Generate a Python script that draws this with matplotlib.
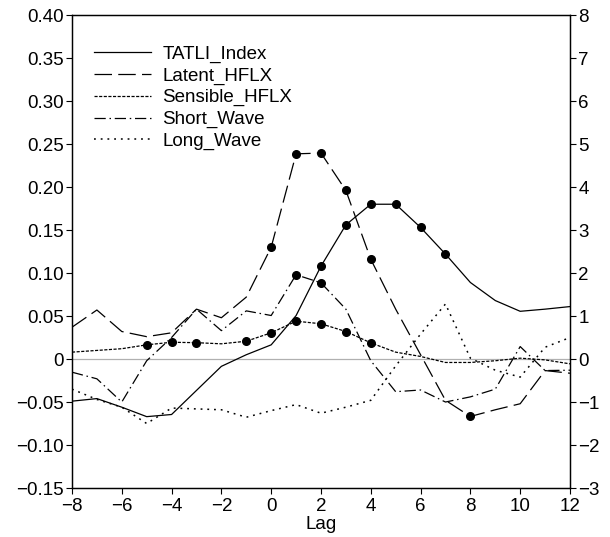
# Lagged regression curves: TATLI index and surface heat flux terms

import matplotlib
matplotlib.use("Agg")
import matplotlib.pyplot as plt

plt.rcParams["font.family"] = ["Liberation Sans", "DejaVu Sans"]
plt.rcParams["axes.unicode_minus"] = True

# --------------------------------------------
# Data
# --------------------------------------------

lags = list(range(-8, 13))

# right axis units
tatli_index = [-0.98, -0.92, -1.12, -1.34, -1.29, -0.73, -0.17, 0.10, 0.33, 1.01,
               2.16, 3.12, 3.60, 3.60, 3.06, 2.44, 1.78, 1.36, 1.11, 1.16, 1.22]

# left axis units
latent_hflx = [0.037, 0.057, 0.032, 0.026, 0.0305, 0.058, 0.048, 0.072, 0.130, 0.2386,
               0.2395, 0.196, 0.116, 0.058, 0.005, -0.048, -0.0668, -0.059, -0.052, -0.0134, -0.0165]
sensible_hflx = [0.008, 0.010, 0.012, 0.0165, 0.0195, 0.019, 0.0177, 0.0207, 0.0305, 0.044,
                 0.041, 0.032, 0.0188, 0.008, 0.003, -0.004, -0.004, -0.002, 0.001, -0.001, -0.0056]
short_wave = [-0.0153, -0.023, -0.050, -0.002, 0.025, 0.058, 0.033, 0.056, 0.0506, 0.098,
              0.0886, 0.058, -0.002, -0.038, -0.036, -0.050, -0.044, -0.035, 0.0145, -0.0134, -0.013]
long_wave = [-0.035, -0.047, -0.056, -0.075, -0.057, -0.058, -0.059, -0.0677, -0.060, -0.053,
             -0.063, -0.056, -0.048, -0.008, 0.029, 0.064, 0.001, -0.013, -0.021, 0.0137, 0.025]

# lags marked with a dot (significant)
tatli_sig = [2, 3, 4, 5, 6, 7]
latent_sig = [0, 1, 2, 3, 4, 8]
sensible_sig = [-5, -4, -3, -1, 0, 1, 2, 3, 4]
short_sig = [1, 2]


def pick(values, sig):
    return [values[lags.index(k)] for k in sig]


def minus(v):
    return ("\u2212" + v[1:]) if v.startswith("-") else v


# --------------------------------------------
# Figure
# --------------------------------------------

fig = plt.figure(figsize=(6.10, 5.37), dpi=100)
ax = fig.add_axes([0.118, 0.0912, 0.8164, 0.8808])
ax2 = ax.twinx()

lw = 0.9
ms = 5.5

ax.axhline(0, color="#b0b0b0", lw=0.9, zorder=1)

h_lat, = ax.plot(lags, latent_hflx, color="black", lw=lw, dashes=(14, 5), label="Latent_HFLX")
ax.plot(latent_sig, pick(latent_hflx, latent_sig), "o", color="black", ms=ms)

h_sen, = ax.plot(lags, sensible_hflx, color="black", lw=lw, dashes=(2.5, 1.2), label="Sensible_HFLX")
ax.plot(sensible_sig, pick(sensible_hflx, sensible_sig), "o", color="black", ms=ms)

h_sw, = ax.plot(lags, short_wave, color="black", lw=lw, dashes=(9, 3, 1.2, 3), label="Short_Wave")
ax.plot(short_sig, pick(short_wave, short_sig), "o", color="black", ms=ms)

h_lw, = ax.plot(lags, long_wave, color="black", lw=1.1, dashes=(1.2, 3.2), label="Long_Wave")

h_tat, = ax2.plot(lags, tatli_index, color="black", lw=lw, label="TATLI_Index")
ax2.plot(tatli_sig, pick(tatli_index, tatli_sig), "o", color="black", ms=ms)

# --------------------------------------------
# Axes
# --------------------------------------------

ax.set_xlim(-8, 12)
ax.set_ylim(-0.15, 0.40)
ax2.set_ylim(-3, 8)

yt = [-0.15, -0.10, -0.05, 0, 0.05, 0.10, 0.15, 0.20, 0.25, 0.30, 0.35, 0.40]
ax.set_yticks(yt)
ax.set_yticklabels([minus("0" if v == 0 else "%.2f" % v) for v in yt])
ax.set_xticks(range(-8, 13, 2))
ax.set_xticklabels([minus(str(v)) for v in range(-8, 13, 2)])
ax2.set_yticks(range(-3, 9))
ax2.set_yticklabels([minus(str(v)) for v in range(-3, 9)])

for a in (ax, ax2):
    a.tick_params(direction="out", length=4, width=0.8, labelsize=13.5, pad=2)
    for s in a.spines.values():
        s.set_linewidth(0.9)
ax.tick_params(axis="x", pad=3)

ax.set_xlabel("Lag", fontsize=13.5, labelpad=1)

ax.legend(handles=[h_tat, h_lat, h_sen, h_sw, h_lw],
          loc="upper left", bbox_to_anchor=(0.044, 0.936),
          frameon=False, fontsize=13.5, handlelength=3.05,
          handletextpad=0.59, labelspacing=0.245, borderpad=0, borderaxespad=0)

fig.savefig("out.png", dpi=100)
